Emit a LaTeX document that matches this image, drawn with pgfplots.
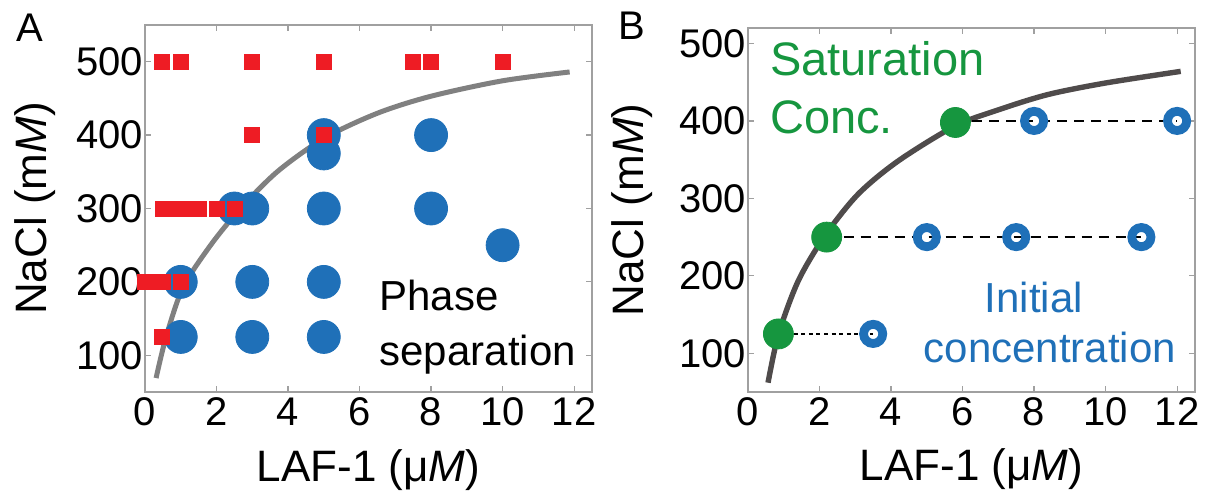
\documentclass[border=0pt]{standalone}
\usepackage{fontspec}
\setmainfont{Liberation Sans}
\usepackage{pgfplots}
\pgfplotsset{compat=1.18}
\definecolor{myred}{HTML}{EE1C24}
\definecolor{myblue}{HTML}{1F70B8}
\definecolor{mygreen}{HTML}{16963F}
\definecolor{axgray}{HTML}{A0A0A0}
\definecolor{curveA}{HTML}{808080}
\definecolor{curveB}{HTML}{4F4B4B}
\pgfplotsset{
 myaxis/.style={
  scale only axis, width=223.5pt,
  xmin=0, xmax=12.5,
  xtick={0,2,...,12}, ytick={100,200,...,500},
  axis line style={axgray, line width=0.75pt},
  tick style={axgray, line width=0.6pt},
  major tick length=3pt,
  tick align=inside,
  tick pos=both,
  /pgf/number format/assume math mode=true,
  tick label style={font=\fontsize{20}{23}\selectfont, black},
  yticklabel style={xshift=2.5pt},
  xticklabel style={yshift=0.5pt},
  label style={font=\fontsize{22}{25}\selectfont},
  xlabel={LAF-1 (μ\textit{M})},
  ylabel={NaCl (m\textit{M})},
  clip=false,
 }
}
\begin{document}
\begin{tikzpicture}[x=1pt,y=1pt]
\useasboundingbox (0,0) rectangle (609.5,248);
\begin{axis}[myaxis, at={(72.5pt,52pt)}, anchor=south west, height=183.5pt, ymin=50, ymax=550,
  xlabel style={at={(axis description cs:0.5,-0.245)}, anchor=base},
  ylabel style={at={(axis description cs:-0.246,0.5)}, anchor=center}]
\addplot[only marks, mark=*, mark size=8.25pt, color=myblue] coordinates {
 (5,400) (8,400) (5,375)
 (2.5,300) (3,300) (5,300) (8,300)
 (10,250)
 (1,200) (3,200) (5,200)
 (1,125) (3,125) (5,125)
};
\addplot[only marks, mark=square*, mark size=3.75pt, color=myred] coordinates {
 (0.48,500) (1,500) (3,500) (5,500) (7.5,500) (8,500) (10,500)
 (3,400) (5,400)
 (0.5,300) (0.75,300) (1,300) (1.25,300) (1.5,300) (2,300) (2.5,300)
 (0,200) (0.25,200) (0.5,200) (1,200)
 (0.48,125)
};
\addplot[curveA, line width=2.5pt, smooth] coordinates {
 (0.31,69) (0.59,125) (1.06,192) (1.85,251) (2.69,301) (3.72,351) (5.02,396) (6.51,430) (8,453) (10,474) (11.875,486)
};
\node[anchor=base west, font=\fontsize{21}{24}\selectfont, inner sep=0] at (axis cs:6.55,161) {Phase};
\node[anchor=base west, font=\fontsize{21}{24}\selectfont, inner sep=0] at (axis cs:6.55,86) {separation};
\end{axis}
\node[anchor=base west, inner sep=0, font=\fontsize{20}{23}\selectfont] at (8,227) {A};
\node[anchor=base west, inner sep=0, font=\fontsize{20}{23}\selectfont] at (309,228) {B};
\begin{axis}[myaxis, at={(374pt,52pt)}, anchor=south west, height=182pt, ymin=50, ymax=520,
  xlabel style={at={(axis description cs:0.5,-0.242)}, anchor=base},
  ylabel style={at={(axis description cs:-0.26,0.5)}, anchor=center}]
\addplot[only marks, mark=*, mark size=7.5pt, color=mygreen] coordinates {
 (0.85,125) (2.2,250) (5.8,398)
};
\addplot[curveB, line width=2.7pt, smooth] coordinates {
 (0.56,62) (0.85,124) (1.4,193) (2.14,251) (3.07,305) (4.19,348) (5.77,393) (6.98,414) (8.38,434) (10,449) (12.1,464)
};
\addplot[black, line width=1.2pt, dash pattern=on 2pt off 1.8pt] coordinates {(0.85,125) (3.5,125)};
\addplot[black, line width=1.2pt, dash pattern=on 5pt off 3.5pt] coordinates {(2.2,250) (11,250)};
\addplot[black, line width=1.2pt, dash pattern=on 5pt off 3.5pt] coordinates {(5.8,400) (12,400)};
\addplot[only marks, mark=o, mark size=4.8pt, color=myblue, mark options={line width=4.4pt}] coordinates {
 (3.5,125) (5,250) (7.5,250) (11,250) (8,400) (12,400)
};
\node[anchor=base west, font=\fontsize{23.5}{27}\selectfont, inner sep=0, mygreen] at (axis cs:0.61,459) {Saturation};
\node[anchor=base west, font=\fontsize{23.5}{27}\selectfont, inner sep=0, mygreen] at (axis cs:0.61,384) {Conc.};
\node[anchor=base, font=\fontsize{21}{24}\selectfont, inner sep=0, myblue] at (axis cs:7.99,152) {Initial};
\node[anchor=base, font=\fontsize{21}{24}\selectfont, inner sep=0, myblue] at (axis cs:8.44,88) {concentration};
\end{axis}
\end{tikzpicture}
\end{document}
